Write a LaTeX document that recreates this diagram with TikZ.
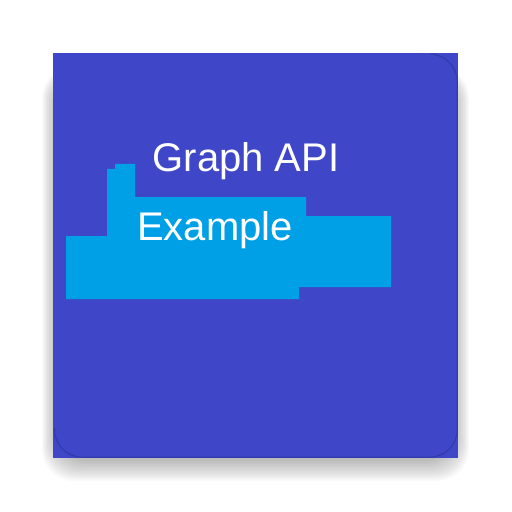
\documentclass[tikz,border=0pt]{standalone}
\usepackage{fontspec}
\setmainfont{Liberation Sans}
\definecolor{iconblue}{RGB}{63,71,200}
\definecolor{shapeblue}{RGB}{0,160,230}
\definecolor{edgeblue}{RGB}{35,40,130}
\begin{document}
\begin{tikzpicture}[x=1bp,y=-1bp,
  lbl/.style={text=white,inner sep=0pt,font=\fontsize{40bp}{41bp}\selectfont},
  shadowlayer/.style={fill=black,opacity=0.018,rounded corners=32bp}]
\useasboundingbox (0,0) rectangle (512,512);
% drop shadow
\foreach \i in {1,...,15}{
  \fill[shadowlayer] (57-\i,74-0.5*\i) rectangle (454+\i,460+1.4*\i);
}
% icon background
\fill[iconblue] (53,53) rectangle (458,458);
% rounded edge shading
\begin{scope}
  \clip (430,40) -- (470,40) -- (470,470) -- (40,470) -- (40,428) -- (430,428) -- cycle;
  \draw[edgeblue,opacity=0.4,line width=1.2bp,rounded corners=28bp] (54.5,54) rectangle (457.3,457.3);
\end{scope}
% light blue shape
\fill[shapeblue] (66,236) -- (107,236) -- (107,169) -- (115,169) -- (115,164) -- (135,164)
  -- (135,197) -- (306,197) -- (306,216) -- (391,216) -- (391,287) -- (299,287)
  -- (299,299) -- (66,299) -- cycle;
% texts
\node[lbl,anchor=base west] (t1) at (152.5,172) {Graph API};
\node[lbl,anchor=base west] (t2) at (137,240.5) {Example};
\end{tikzpicture}
\end{document}
